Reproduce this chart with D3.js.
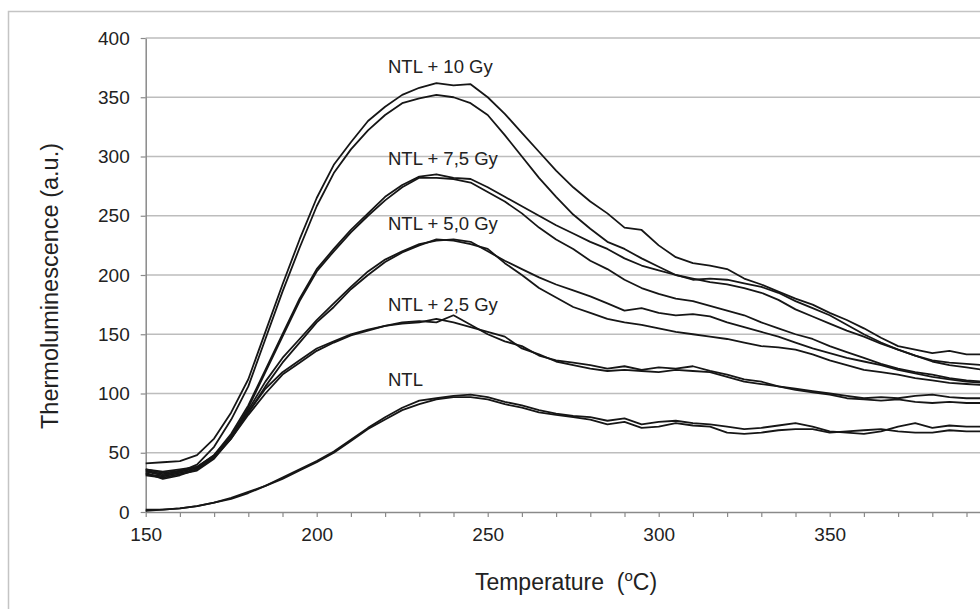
<!DOCTYPE html>
<html>
<head>
<meta charset="utf-8">
<script src="https://cdn.jsdelivr.net/npm/d3@7"></script>
<style>
  html, body { margin: 0; padding: 0; background: #fff; }
  svg { display: block; font-family: "Liberation Sans", Arial, sans-serif; }
</style>
</head>
<body>
<div id="chart"></div>
<script>
// temperature steps (°C)
const temps = d3.range(150, 400, 5);

// glow curves, two readouts per dose, values in a.u.
const ntlA = [2, 2, 3, 5, 8, 11, 16, 22, 29, 36, 43, 51, 61, 71, 80, 88, 94, 96, 98, 99, 97, 93, 90, 86, 83, 81, 80, 77, 79, 74, 76, 77, 75, 74, 72, 70, 71, 73, 75, 72, 68, 67, 66, 68, 72, 75, 71, 73, 72, 72];
const ntlB = [1, 2, 3, 5, 8, 12, 17, 22, 28, 35, 42, 50, 60, 70, 78, 86, 91, 95, 97, 97, 95, 91, 88, 84, 82, 80, 78, 74, 76, 71, 72, 75, 73, 72, 67, 66, 67, 69, 70, 70, 67, 68, 69, 70, 68, 67, 67, 69, 68, 68];
const gy25A = [36, 34, 36, 38, 48, 64, 84, 104, 118, 128, 138, 144, 150, 154, 157, 160, 161, 160, 166, 158, 150, 144, 140, 132, 128, 126, 124, 121, 123, 120, 122, 121, 123, 119, 116, 112, 110, 106, 104, 102, 100, 98, 96, 97, 96, 98, 99, 97, 96, 96];
const gy25B = [32, 30, 33, 36, 46, 62, 82, 100, 116, 126, 136, 143, 149, 153, 157, 159, 160, 163, 160, 156, 152, 148, 138, 133, 127, 124, 121, 119, 120, 119, 118, 120, 119, 118, 114, 110, 108, 106, 103, 101, 99, 96, 95, 94, 95, 93, 92, 93, 92, 92];
const gy50A = [35, 32, 34, 37, 47, 64, 86, 110, 130, 146, 162, 176, 190, 203, 213, 220, 226, 229, 230, 228, 220, 212, 205, 198, 192, 187, 182, 176, 170, 172, 168, 166, 167, 165, 160, 156, 152, 148, 143, 138, 134, 130, 127, 124, 120, 117, 114, 112, 110, 109];
const gy50B = [31, 29, 32, 35, 45, 62, 84, 106, 126, 143, 160, 173, 188, 200, 211, 219, 225, 230, 229, 226, 222, 210, 200, 189, 181, 173, 168, 163, 160, 158, 155, 152, 150, 148, 146, 143, 140, 139, 137, 133, 128, 124, 120, 118, 116, 113, 111, 109, 108, 107];
const gy75A = [36, 33, 35, 38, 48, 66, 90, 120, 150, 180, 205, 222, 238, 252, 266, 276, 283, 285, 282, 281, 274, 266, 258, 250, 242, 235, 228, 222, 214, 208, 204, 200, 197, 194, 192, 189, 185, 179, 171, 165, 159, 153, 148, 142, 137, 132, 127, 124, 122, 120];
const gy75B = [33, 28, 31, 36, 46, 64, 88, 118, 148, 178, 203, 220, 236, 250, 263, 274, 282, 282, 281, 278, 270, 262, 252, 240, 230, 222, 212, 205, 196, 189, 184, 180, 178, 174, 170, 166, 160, 155, 150, 146, 140, 135, 130, 125, 121, 118, 116, 113, 111, 110];
const gy10A = [41, 42, 43, 48, 62, 84, 112, 152, 192, 230, 265, 293, 312, 330, 342, 352, 358, 362, 360, 361, 350, 336, 320, 304, 288, 274, 262, 252, 240, 238, 225, 215, 210, 208, 205, 197, 192, 186, 180, 175, 168, 162, 155, 147, 140, 137, 134, 136, 133, 133];
const gy10B = [34, 31, 34, 40, 55, 78, 106, 146, 186, 223, 258, 286, 306, 322, 335, 345, 349, 352, 350, 345, 335, 318, 300, 282, 266, 251, 239, 228, 222, 214, 207, 200, 196, 197, 196, 193, 190, 185, 178, 172, 166, 158, 150, 143, 137, 132, 128, 126, 125, 124];

const curves = [ntlA, ntlB, gy25A, gy25B, gy50A, gy50B, gy75A, gy75B, gy10A, gy10B];

// curve labels
const labelText = ["NTL + 10 Gy", "NTL + 7,5 Gy", "NTL + 5,0 Gy", "NTL + 2,5 Gy", "NTL"];
const labelY = [73, 165, 230, 311, 386];

const yTicks = [0, 50, 100, 150, 200, 250, 300, 350, 400];
const xLabelled = [150, 200, 250, 300, 350];

const width = 980, height = 609;

const x = d3.scaleLinear().domain([150, 400]).range([145.7, 1000.7]);
const y = d3.scaleLinear().domain([0, 400]).range([512, 38]);

const svg = d3.create("svg")
    .attr("width", width)
    .attr("height", height);

// outer frame
svg.append("rect")
    .attr("x", 8.5).attr("y", 11.5)
    .attr("width", 1000).attr("height", 700)
    .attr("fill", "none")
    .attr("stroke", "#c4c4c4")
    .attr("stroke-width", 1.5);

// gridlines
svg.append("g")
    .selectAll("line")
    .data(yTicks.filter(d => d > 0))
    .enter().append("line")
    .attr("x1", x(150)).attr("x2", width)
    .attr("y1", d => y(d)).attr("y2", d => y(d))
    .attr("stroke", "#bdbdbd")
    .attr("stroke-width", 1.6);

// axes
const xAxis = svg.append("g")
    .attr("transform", `translate(0,${y(0)})`)
    .call(d3.axisBottom(x)
        .tickValues(d3.range(150, 401, 10))
        .tickSize(5)
        .tickSizeOuter(0)
        .tickFormat(d => xLabelled.includes(d) ? d : ""));

const yAxis = svg.append("g")
    .attr("transform", `translate(${x(150)},0)`)
    .call(d3.axisLeft(y)
        .tickValues(yTicks)
        .tickSize(5)
        .tickSizeOuter(0));

[xAxis, yAxis].forEach(ax => {
    ax.select(".domain").attr("stroke", "#8a8a8a").attr("stroke-width", 1.5);
    ax.selectAll(".tick line").attr("stroke", "#8a8a8a").attr("stroke-width", 1.2);
    ax.selectAll(".tick text")
        .attr("fill", "#222")
        .style("font-size", "19px")
        .style("font-family", "'Liberation Sans', Arial, sans-serif");
});
xAxis.selectAll(".tick text").attr("dy", "1.05em").attr("y", 9.5);
yAxis.selectAll(".tick text").attr("x", -16);

// glow curves
const line = d3.line()
    .x((d, i) => x(temps[i]))
    .y(d => y(d));

svg.append("g")
    .selectAll("path")
    .data(curves)
    .enter().append("path")
    .attr("d", line)
    .attr("fill", "none")
    .attr("stroke", "#161616")
    .attr("stroke-width", 1.8)
    .attr("stroke-linejoin", "round");

// labels
svg.append("g")
    .selectAll("text")
    .data(labelText)
    .enter().append("text")
    .attr("x", 388)
    .attr("y", (d, i) => labelY[i])
    .attr("fill", "#222")
    .style("font-size", "18.5px")
    .text(d => d);

// axis titles
const xt = svg.append("text")
    .attr("x", 566)
    .attr("y", 590)
    .attr("text-anchor", "middle")
    .attr("fill", "#222")
    .style("font-size", "23px")
    .style("white-space", "pre");
xt.append("tspan").text("Temperature  (");
xt.append("tspan").attr("dy", -9).style("font-size", "15px").text("o");
xt.append("tspan").attr("dy", 9).text("C)");

svg.append("text")
    .attr("transform", "translate(58,286) rotate(-90)")
    .attr("text-anchor", "middle")
    .attr("fill", "#222")
    .style("font-size", "23.5px")
    .text("Thermoluminescence (a.u.)");

document.getElementById("chart").appendChild(svg.node());
</script>
</body>
</html>
